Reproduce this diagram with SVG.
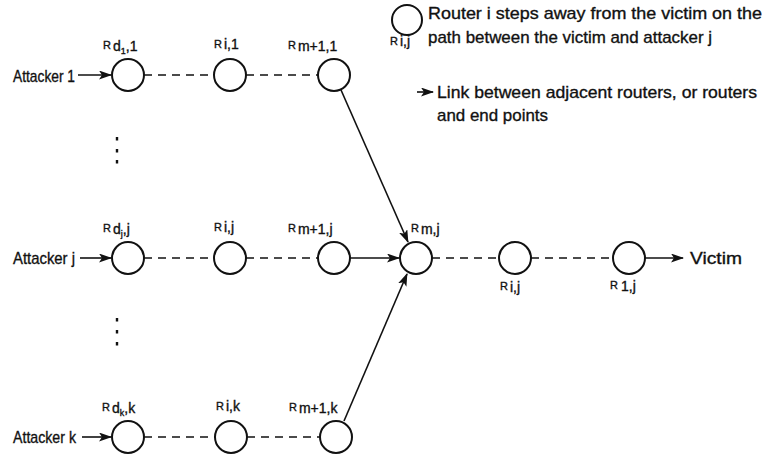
<svg xmlns="http://www.w3.org/2000/svg" width="767" height="459" viewBox="0 0 767 459">
  <style>
    .bg { fill: #ffffff; }
    .router { fill: #ffffff; stroke: #111; stroke-width: 2; }
    .link { stroke: #111; stroke-width: 1.6; fill: none; }
    .dash { stroke: #111; stroke-width: 1.4; fill: none; stroke-dasharray: 8 6; }
    .txt { font-family: "Liberation Sans", Arial, sans-serif; fill: #111; stroke: #111; stroke-width: 0.35; }
    .big { font-size: 17px; }
    .r { font-size: 11px; }
    .sub { font-size: 14px; }
    .subsub { font-size: 9px; }
    .dot { fill: #111; }
  </style>
  <defs>
    <marker id="arrow" viewBox="0 0 13 9" refX="12" refY="4.5" markerWidth="13" markerHeight="9" markerUnits="userSpaceOnUse" orient="auto">
      <path d="M0,0 L13,4.5 L0,9 L3,4.5 z" fill="#111"/>
    </marker>
  </defs>
  <rect class="bg" x="0" y="0" width="767" height="459"/>

  <!-- connectors -->
  <g id="connectors">
    <!-- attacker 1 path -->
    <line class="link" x1="78" y1="75" x2="111" y2="75" marker-end="url(#arrow)"/>
    <line class="dash" x1="144" y1="75" x2="214" y2="75"/>
    <line class="dash" x1="246" y1="75" x2="318" y2="75"/>
    <line class="link" x1="341" y1="90" x2="408" y2="242" marker-end="url(#arrow)"/>
    <!-- attacker j path -->
    <line class="link" x1="80" y1="258" x2="111" y2="258" marker-end="url(#arrow)"/>
    <line class="dash" x1="144" y1="258" x2="214" y2="258"/>
    <line class="dash" x1="246" y1="258" x2="318" y2="258"/>
    <line class="link" x1="350" y1="258" x2="399" y2="258" marker-end="url(#arrow)"/>
    <!-- attacker k path -->
    <line class="link" x1="82" y1="437" x2="111" y2="437" marker-end="url(#arrow)"/>
    <line class="dash" x1="144" y1="437" x2="215" y2="437"/>
    <line class="dash" x1="247" y1="437" x2="320" y2="437"/>
    <line class="link" x1="344" y1="421" x2="407" y2="274" marker-end="url(#arrow)"/>
    <!-- shared path towards the victim -->
    <line class="dash" x1="432" y1="258" x2="499" y2="258"/>
    <line class="dash" x1="531" y1="258" x2="613" y2="258"/>
    <line class="link" x1="645" y1="258" x2="683" y2="258" marker-end="url(#arrow)"/>
  </g>

  <!-- legend -->
  <g id="legend-router">
    <ellipse class="router" cx="407" cy="20" rx="15" ry="15"/>
    <text class="txt" x="390" y="45"><tspan class="r">R</tspan><tspan class="sub" dx="2" dy="1">i,j</tspan></text>
    <text class="txt big" x="428" y="19" textLength="334" lengthAdjust="spacingAndGlyphs">Router i steps away from the victim on the</text>
    <text class="txt big" x="428" y="43" textLength="284" lengthAdjust="spacingAndGlyphs">path between the victim and attacker j</text>
  </g>
  <g id="legend-link">
    <line class="link" x1="417" y1="92" x2="433" y2="92" marker-end="url(#arrow)"/>
    <text class="txt big" x="437" y="98" textLength="320" lengthAdjust="spacingAndGlyphs">Link between adjacent routers, or routers</text>
    <text class="txt big" x="437" y="121" textLength="111" lengthAdjust="spacingAndGlyphs">and end points</text>
  </g>

  <!-- end points -->
  <g id="attacker-1"><text class="txt big" x="13" y="82" textLength="62" lengthAdjust="spacingAndGlyphs">Attacker 1</text></g>
  <g id="attacker-j"><text class="txt big" x="13" y="264" textLength="62" lengthAdjust="spacingAndGlyphs">Attacker j</text></g>
  <g id="attacker-k"><text class="txt big" x="13" y="443" textLength="63" lengthAdjust="spacingAndGlyphs">Attacker k</text></g>
  <g id="victim"><text class="txt big" x="690" y="264" textLength="52" lengthAdjust="spacingAndGlyphs">Victim</text></g>

  <!-- ellipsis dots between attacker rows -->
  <g id="dots-upper">
    <rect class="dot" x="115.8" y="137" width="2.4" height="3.5"/>
    <rect class="dot" x="115.8" y="149" width="2.4" height="3.5"/>
    <rect class="dot" x="115.8" y="160" width="2.4" height="3.5"/>
  </g>
  <g id="dots-lower">
    <rect class="dot" x="115.8" y="318" width="2.4" height="3.5"/>
    <rect class="dot" x="115.8" y="330" width="2.4" height="3.5"/>
    <rect class="dot" x="115.8" y="342" width="2.4" height="3.5"/>
  </g>

  <!-- routers on the path of attacker 1 -->
  <g id="r-d1-1">
    <ellipse class="router" cx="128" cy="75" rx="16" ry="16"/>
    <text class="txt" x="103" y="49"><tspan class="r">R</tspan><tspan class="sub" dx="2" dy="2">d</tspan><tspan class="subsub" dy="3">1</tspan><tspan class="sub" dy="-3">,1</tspan></text>
  </g>
  <g id="r-i-1">
    <ellipse class="router" cx="230" cy="75" rx="16" ry="16"/>
    <text class="txt" x="214" y="48"><tspan class="r">R</tspan><tspan class="sub" dx="2" dy="1">i,1</tspan></text>
  </g>
  <g id="r-m1-1">
    <ellipse class="router" cx="334" cy="75" rx="16" ry="16"/>
    <text class="txt" x="288" y="49"><tspan class="r">R</tspan><tspan class="sub" dx="2" dy="2">m+1,1</tspan></text>
  </g>

  <!-- routers on the path of attacker j -->
  <g id="r-dj-j">
    <ellipse class="router" cx="128" cy="258" rx="16" ry="16"/>
    <text class="txt" x="103" y="232"><tspan class="r">R</tspan><tspan class="sub" dx="2" dy="2">d</tspan><tspan class="subsub" dy="3">j</tspan><tspan class="sub" dy="-3">,j</tspan></text>
  </g>
  <g id="r-i-j">
    <ellipse class="router" cx="230" cy="258" rx="16" ry="16"/>
    <text class="txt" x="214" y="231"><tspan class="r">R</tspan><tspan class="sub" dx="2" dy="1">i,j</tspan></text>
  </g>
  <g id="r-m1-j">
    <ellipse class="router" cx="334" cy="258" rx="16" ry="16"/>
    <text class="txt" x="288" y="232"><tspan class="r">R</tspan><tspan class="sub" dx="2" dy="2">m+1,j</tspan></text>
  </g>

  <!-- routers on the path of attacker k -->
  <g id="r-dk-k">
    <ellipse class="router" cx="128" cy="437" rx="16" ry="16"/>
    <text class="txt" x="102" y="411"><tspan class="r">R</tspan><tspan class="sub" dx="2" dy="2">d</tspan><tspan class="subsub" dy="3">k</tspan><tspan class="sub" dy="-3">,k</tspan></text>
  </g>
  <g id="r-i-k">
    <ellipse class="router" cx="231" cy="437" rx="16" ry="16"/>
    <text class="txt" x="216" y="410"><tspan class="r">R</tspan><tspan class="sub" dx="2" dy="1">i,k</tspan></text>
  </g>
  <g id="r-m1-k">
    <ellipse class="router" cx="336" cy="437" rx="16" ry="16"/>
    <text class="txt" x="289" y="411"><tspan class="r">R</tspan><tspan class="sub" dx="2" dy="2">m+1,k</tspan></text>
  </g>

  <!-- shared routers towards the victim -->
  <g id="r-m-j">
    <ellipse class="router" cx="416" cy="258" rx="16" ry="16"/>
    <text class="txt" x="411" y="232"><tspan class="r">R</tspan><tspan class="sub" dx="2" dy="2">m,j</tspan></text>
  </g>
  <g id="r-i-j-shared">
    <ellipse class="router" cx="515" cy="258" rx="16" ry="16"/>
    <text class="txt" x="500" y="290"><tspan class="r">R</tspan><tspan class="sub" dx="2" dy="2">i,j</tspan></text>
  </g>
  <g id="r-1-j">
    <ellipse class="router" cx="629" cy="258" rx="16" ry="16"/>
    <text class="txt" x="610" y="289"><tspan class="r">R</tspan><tspan class="sub" dx="3" dy="2">1,j</tspan></text>
  </g>
</svg>
